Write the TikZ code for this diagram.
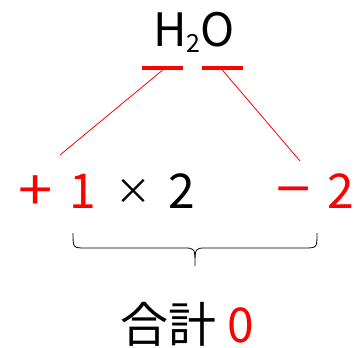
\documentclass[tikz,border=0pt]{standalone}
\usepackage{fontspec}
\setmainfont{Noto Sans CJK JP}
\usetikzlibrary{positioning}

\begin{document}
\begin{tikzpicture}[x=1pt, y=-1pt,
    txt/.style={font=\fontsize{48}{52}\selectfont, inner sep=0pt, anchor=base},
    redtxt/.style={txt, text=red},
    sign/.style={redtxt, font=\fontsize{56}{60}\selectfont, xscale=1.1},
    bar/.style={fill=red, inner sep=0pt, minimum width=41pt, minimum height=4pt},
    link/.style={red, line width=0.8pt},
    brace/.style={black, line width=0.8pt}
    ]
    \useasboundingbox (0,0) rectangle (354,348);

    % formula and the two marked atoms
    \node[txt, font=\fontsize{46}{50}\selectfont] (water) at (194,46)
        {H\raisebox{-6pt}{\fontsize{25}{25}\selectfont 2}O};
    \node[bar] (hbar) at (162.5,68) {};
    \node[bar] (obar) at (222.5,68) {};

    % oxidation numbers
    \node[sign] (plus) at (35.5,210) {+};
    \node[redtxt] (one) at (83,208) {1};
    \node[txt, font=\fontsize{36}{40}\selectfont] (times) at (133.5,204) {×};
    \node[txt] (two) at (181.5,208) {2};
    \node[sign] (minus) at (293.5,209) {−};
    \node[redtxt] (twor) at (341,208) {2};

    \coordinate (hend) at (60,155);
    \coordinate (oend) at (300,161);
    \draw[link] (hbar.south) -- (hend);
    \draw[link] (obar.south) -- (oend);

    % brace and sum
    \draw[brace] (73,233) .. controls (73,248) .. (86,248) -- (184,248)
        .. controls (195,248) .. (195,266) .. controls (195,248) .. (206,248)
        -- (304,248) .. controls (317,248) .. (317,233);

    \node[txt] (sum) at (168,342) {合計};
    \node[redtxt] (zero) at (240.5,342) {0};
\end{tikzpicture}
\end{document}
